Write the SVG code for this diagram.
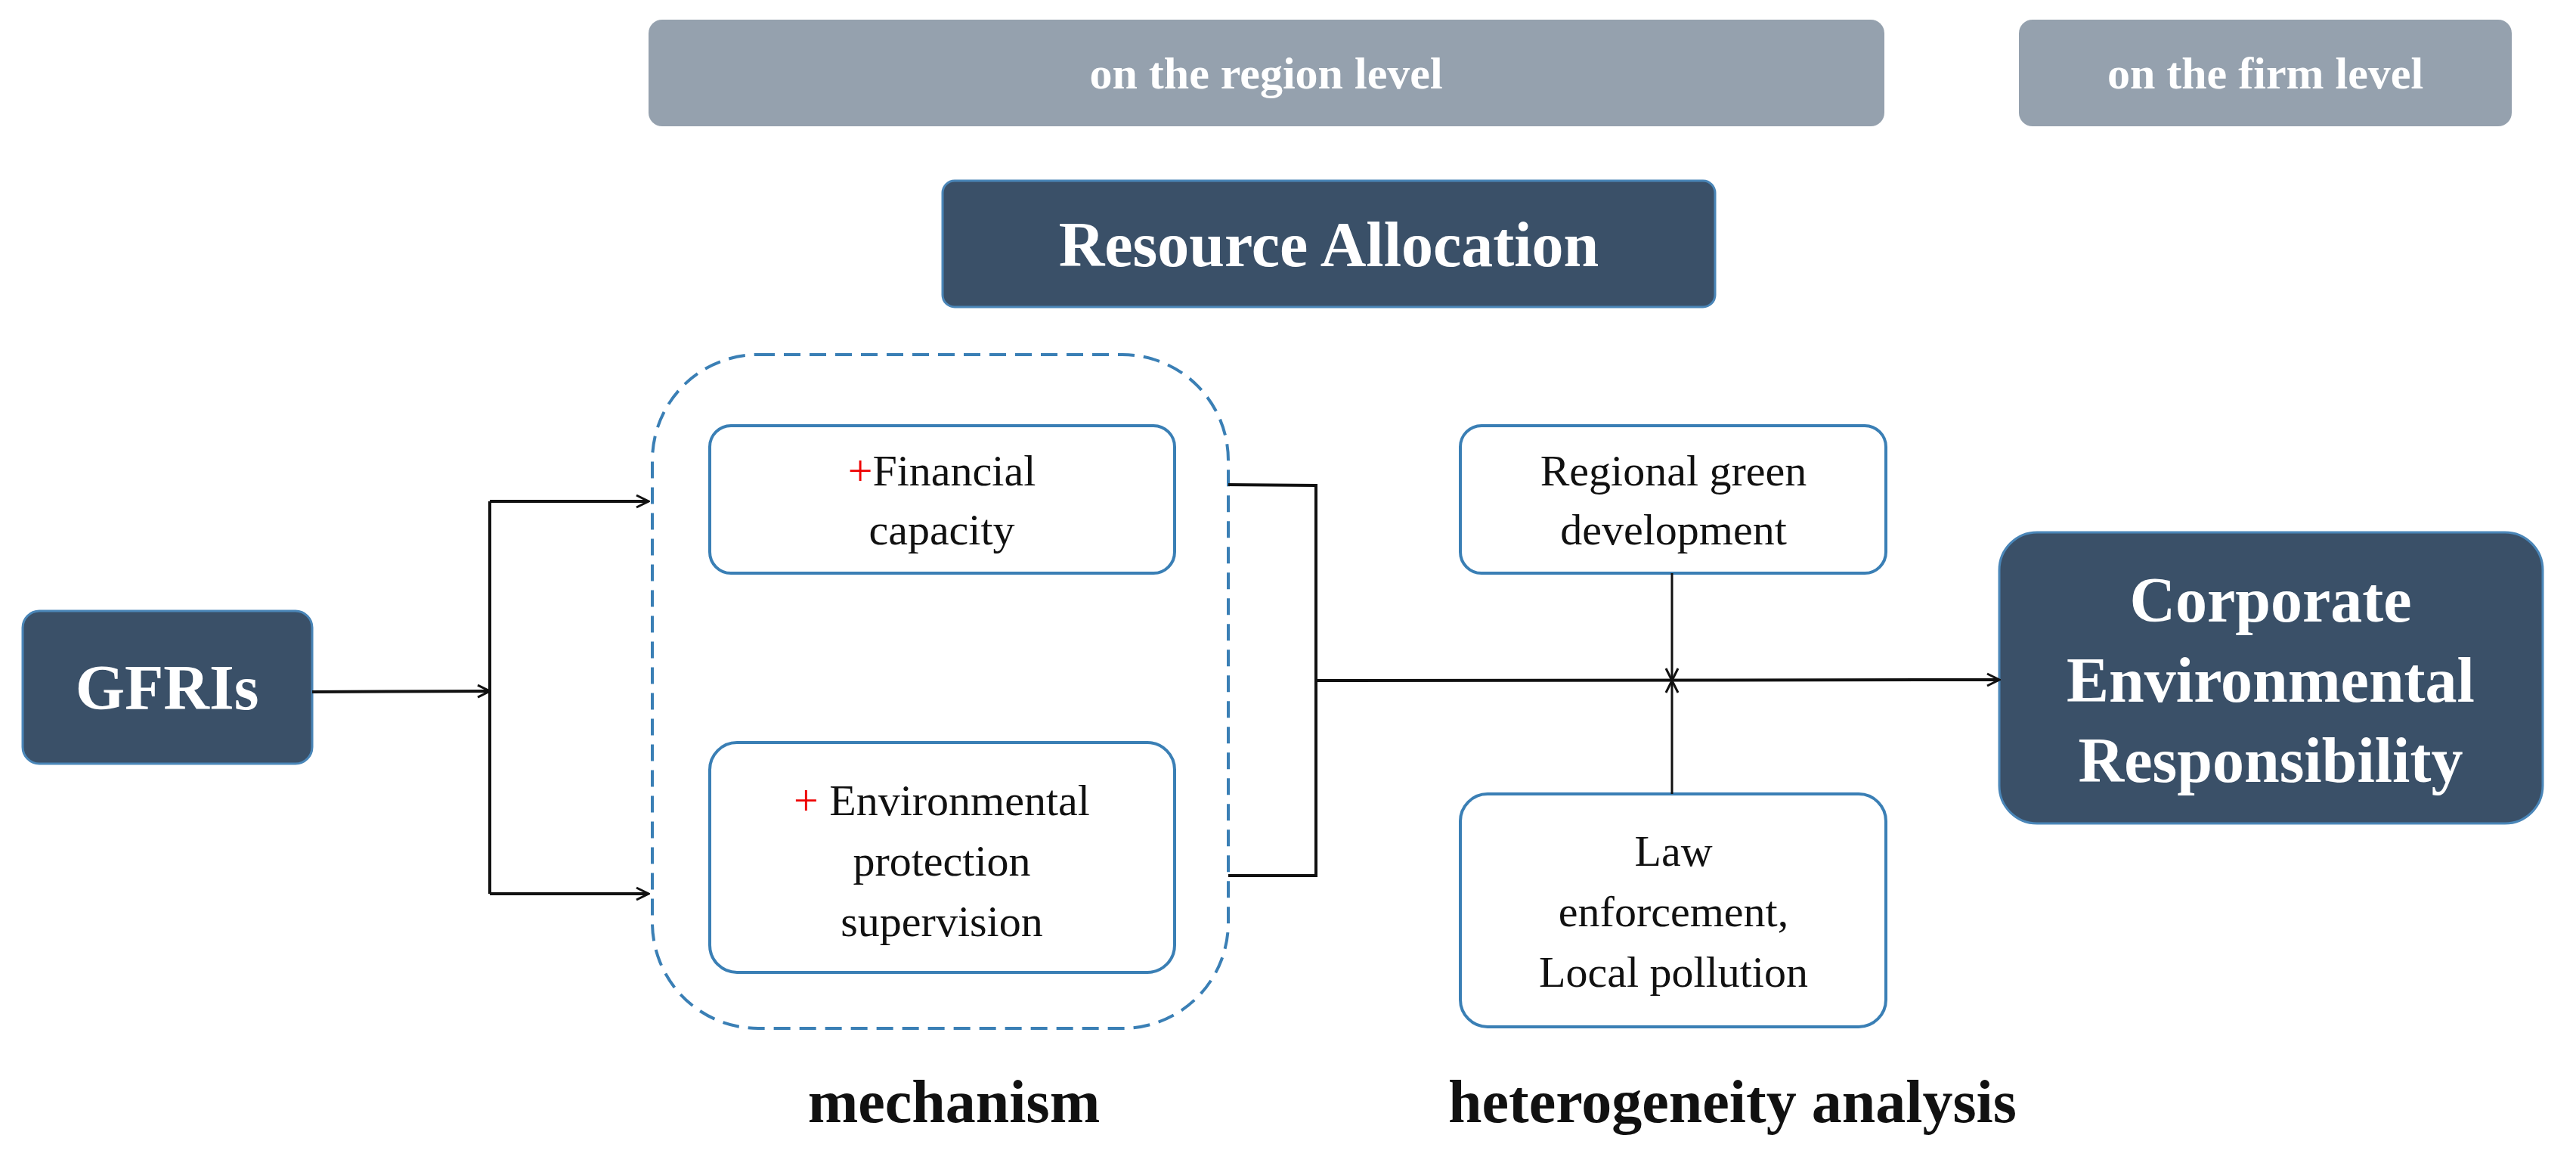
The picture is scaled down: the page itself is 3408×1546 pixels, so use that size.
<svg xmlns="http://www.w3.org/2000/svg" width="3408" height="1546" viewBox="0 0 3408 1546">
<defs>
<style>
.ban{fill:#95a1ae}
.dark{fill:#3a5068;stroke:#4a86b8;stroke-width:3}
.box{fill:#fff;stroke:#3a7fb5;stroke-width:4}
.t{font-family:"Liberation Serif",serif;text-anchor:middle}
.bt{font-size:60px;fill:#fff;font-weight:bold}
.dt{font-size:84px;fill:#fff;font-weight:bold}
.nt{font-size:58px;fill:#111}
.lt{font-size:80px;fill:#111;font-weight:bold}
.ln{stroke:#111;stroke-width:4;fill:none}
</style>
<marker id="ar" viewBox="0 0 20 20" refX="18" refY="10" markerWidth="20" markerHeight="20" markerUnits="userSpaceOnUse" orient="auto"><path d="M2,2 L18,10 L2,18" fill="none" stroke="#111" stroke-width="3"/></marker>
</defs>
<g id="region-level"><rect class="ban" x="858" y="26" width="1635" height="141" rx="18"/><text class="t bt" x="1675" y="117">on the region level</text></g>
<g id="firm-level"><rect class="ban" x="2671" y="26" width="652" height="141" rx="18"/><text class="t bt" x="2997" y="117">on the firm level</text></g>
<g id="resource-allocation"><rect class="dark" x="1247" y="239" width="1022" height="167" rx="16"/><text class="t dt" x="1758" y="352">Resource Allocation</text></g>
<g id="mechanism-group"><rect x="863" y="469" width="762" height="891" rx="140" fill="none" stroke="#3a7fb5" stroke-width="4" stroke-dasharray="22 12"/></g>
<g id="financial"><rect class="box" x="939" y="563" width="615" height="195" rx="28"/><text class="t nt" x="1246" y="642"><tspan fill="#e00">+</tspan>Financial</text><text class="t nt" x="1246" y="720">capacity</text></g>
<g id="env"><rect class="box" x="939" y="982" width="615" height="304" rx="36"/><text class="t nt" x="1246" y="1078"><tspan fill="#e00">+</tspan> Environmental</text><text class="t nt" x="1246" y="1158">protection</text><text class="t nt" x="1246" y="1238">supervision</text></g>
<g id="regional-green"><rect class="box" x="1932" y="563" width="563" height="195" rx="28"/><text class="t nt" x="2214" y="642">Regional green</text><text class="t nt" x="2214" y="720">development</text></g>
<g id="law"><rect class="box" x="1932" y="1050" width="563" height="308" rx="36"/><text class="t nt" x="2214" y="1145">Law</text><text class="t nt" x="2214" y="1225">enforcement,</text><text class="t nt" x="2214" y="1305">Local pollution</text></g>
<g id="gfris"><rect class="dark" x="30" y="808" width="383" height="202" rx="22"/><text class="t dt" x="221" y="938">GFRIs</text></g>
<g id="cer"><rect class="dark" x="2645" y="704" width="719" height="385" rx="50"/><text class="t dt" x="3004" y="822">Corporate</text><text class="t dt" x="3004" y="928">Environmental</text><text class="t dt" x="3004" y="1034">Responsibility</text></g>
<g id="connectors">
<line class="ln" x1="413" y1="915" x2="648" y2="914" marker-end="url(#ar)"/>
<line class="ln" x1="648" y1="663" x2="648" y2="1182"/>
<line class="ln" x1="648" y1="663" x2="858" y2="663" marker-end="url(#ar)"/>
<line class="ln" x1="648" y1="1182" x2="858" y2="1182" marker-end="url(#ar)"/>
<polyline class="ln" points="1625,641 1741,642 1741,1158 1625,1158"/>
<line class="ln" x1="1741" y1="900" x2="2645" y2="899" marker-end="url(#ar)"/>
<line class="ln" x1="2212" y1="758" x2="2212" y2="900" marker-end="url(#ar)" style="stroke-width:3"/>
<line class="ln" x1="2212" y1="1050" x2="2212" y2="900" marker-end="url(#ar)" style="stroke-width:3"/>
</g>
<g id="labels"><text class="t lt" x="1262" y="1484">mechanism</text><text class="t lt" x="2292" y="1484">heterogeneity analysis</text></g>
</svg>
